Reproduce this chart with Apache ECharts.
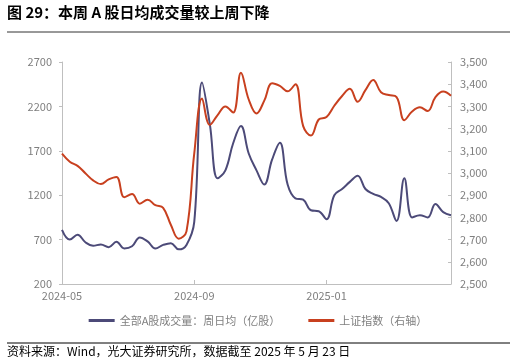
<!DOCTYPE html>
<html><head><meta charset="utf-8">
<script src="https://cdn.jsdelivr.net/npm/echarts@6/dist/echarts.min.js"></script>
<style>html,body{margin:0;padding:0;background:#fff;}#c{width:516px;height:364px;}</style>
</head><body><div id="c"></div>
<script>
var weeks = ['2024-05-31','2024-06-07','2024-06-14','2024-06-21','2024-06-28','2024-07-05','2024-07-12','2024-07-19','2024-07-26','2024-08-02','2024-08-09','2024-08-16','2024-08-23','2024-08-30','2024-09-06','2024-09-13','2024-09-20','2024-09-27','2024-09-30','2024-10-11','2024-10-18','2024-10-25','2024-11-01','2024-11-08','2024-11-15','2024-11-22','2024-11-29','2024-12-06','2024-12-13','2024-12-20','2024-12-27','2025-01-03','2025-01-10','2025-01-17','2025-01-24','2025-02-07','2025-02-14','2025-02-21','2025-02-28','2025-03-07','2025-03-14','2025-03-21','2025-03-28','2025-04-03','2025-04-11','2025-04-18','2025-04-25','2025-04-30','2025-05-09','2025-05-16','2025-05-23'];
var volume = [810,700,755,670,630,645,615,675,600,625,725,680,600,640,660,590,640,900,2470,2000,1390,1480,1785,1980,1670,1480,1320,1600,1790,1320,1165,1150,1030,1020,930,1200,1270,1350,1420,1270,1215,1180,1110,910,1390,950,975,950,1100,1010,975];
var shIndex = [3087,3051,3032,2999,2967,2950,2971,2982,2891,2905,2862,2880,2855,2843,2766,2704,2737,3088,3336,3217,3261,3300,3272,3452,3331,3268,3326,3404,3392,3368,3400,3211,3169,3241,3252,3303,3347,3379,3321,3373,3419,3364,3351,3342,3238,3277,3296,3279,3342,3367,3348];
var xTickLabels = {0:'2024-05',17:'2024-09',34:'2025-01'};
var seriesNames = ['全部A股成交量：周日均（亿股）','上证指数（右轴）'];
var title = '图 29：本周 A 股日均成交量较上周下降';
var source = '资料来源：Wind，光大证券研究所，数据截至 2025 年 5 月 23 日';

var chart = echarts.init(document.getElementById('c'));
var font = '"Noto Sans CJK SC","Noto Sans",sans-serif';
chart.setOption({
  animation:false,
  textStyle:{fontFamily:font},
  graphic:[
    {type:'text',left:7,top:5,style:{text:title,font:'bold 15px '+font,fill:'#000'}},
    {type:'line',shape:{x1:7,y1:32,x2:510,y2:32},style:{stroke:'#333',lineWidth:1}},
    {type:'line',shape:{x1:7,y1:343,x2:510,y2:343},style:{stroke:'#000',lineWidth:1}},
    {type:'text',left:7,top:345,style:{text:source,font:'12px '+font,fill:'#000'}}
  ],
  grid:{left:62,right:65,top:62,bottom:80},
  legend:{
    bottom:33,left:'center',itemWidth:26,itemHeight:3,itemGap:28,icon:'rect',
    textStyle:{color:'#7f7f7f',fontSize:11,fontFamily:font},
    data:seriesNames
  },
  xAxis:{
    type:'category',data:weeks,boundaryGap:false,
    axisLine:{lineStyle:{color:'#bfbfbf'}},
    axisTick:{inside:true,length:4,lineStyle:{color:'#bfbfbf'},interval:function(i){return xTickLabels[i]!==undefined;}},
    axisLabel:{color:'#7f7f7f',fontSize:11,margin:6,interval:function(i){return xTickLabels[i]!==undefined;},formatter:function(v,i){return xTickLabels[i]||'';}}
  },
  yAxis:[
    {type:'value',min:200,max:2700,interval:500,position:'left',
     axisLine:{show:true,lineStyle:{color:'#bfbfbf'}},
     axisTick:{show:true,length:3,lineStyle:{color:'#bfbfbf'}},
     splitLine:{show:false},
     axisLabel:{color:'#7f7f7f',fontSize:11,margin:10,formatter:function(v){return String(v);}}},
    {type:'value',min:2500,max:3500,interval:100,position:'right',
     axisLine:{show:true,lineStyle:{color:'#bfbfbf'}},
     axisTick:{show:true,inside:true,length:3,lineStyle:{color:'#bfbfbf'}},
     splitLine:{show:false},
     axisLabel:{color:'#7f7f7f',fontSize:11,margin:9,formatter:function(v){return v.toLocaleString('en-US');}}}
  ],
  series:[
    {name:seriesNames[0],type:'line',yAxisIndex:0,data:volume,smooth:0.4,showSymbol:false,
     lineStyle:{color:'#4c4a78',width:2},itemStyle:{color:'#4c4a78'}},
    {name:seriesNames[1],type:'line',yAxisIndex:1,data:shIndex,smooth:0.4,showSymbol:false,
     lineStyle:{color:'#c8401f',width:2},itemStyle:{color:'#c8401f'}}
  ]
});
</script></body></html>
